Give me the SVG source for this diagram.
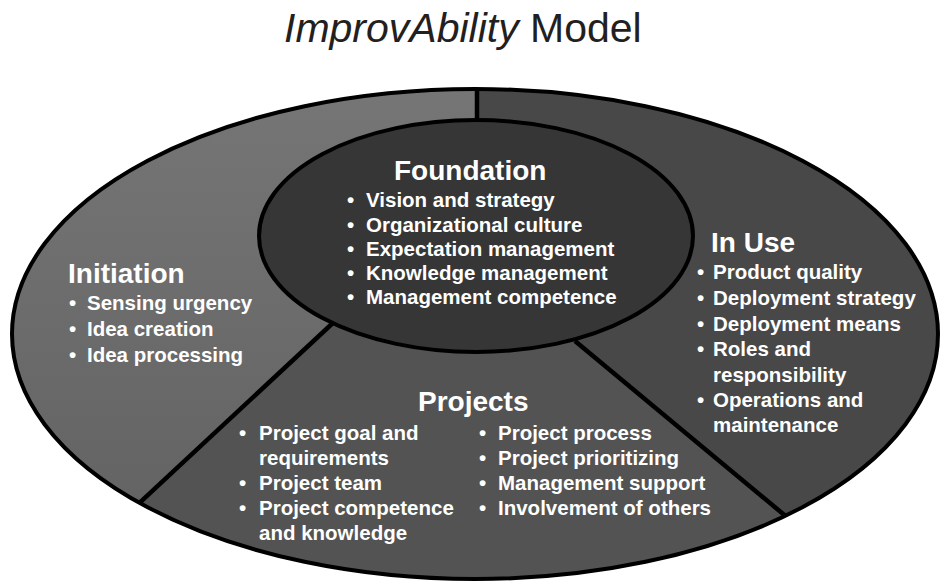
<svg xmlns="http://www.w3.org/2000/svg" width="941" height="582" viewBox="0 0 941 582">
<style>
.t{font-family:"Liberation Sans",Arial,sans-serif;font-weight:bold;fill:#ffffff}
.h{font-size:28px}
.i{font-size:20.5px}
.div{stroke:#000;stroke-width:4.5;fill:none;stroke-linecap:butt}
</style>
<defs>
<clipPath id="outer"><ellipse cx="475" cy="334" rx="463" ry="245"/></clipPath>
<linearGradient id="gInit" x1="0" y1="0" x2="0" y2="1">
<stop offset="0" stop-color="#767676"/><stop offset="1" stop-color="#626262"/>
</linearGradient>
</defs>
<rect width="941" height="582" fill="#ffffff"/>
<g id="title">
<text x="284" y="42" font-family="Liberation Sans, Arial, sans-serif" font-size="41" fill="#231f20"><tspan font-style="italic">ImprovAbility</tspan> Model</text>
</g>
<g id="sectors" clip-path="url(#outer)">
<rect x="0" y="80" width="941" height="520" fill="#484848"/>
<polygon id="initiation-area" points="477,80 477,240 330,326 143,500 100,540 0,540 0,80" fill="url(#gInit)"/>
<polygon id="projects-area" points="477,240 330,326 143,500 80,560 80,600 900,600 835,557 787,517 580,345" fill="#535353"/>
</g>
<g id="connectors" clip-path="url(#outer)">
<line class="div" x1="477" y1="80" x2="477" y2="125"/>
<line class="div" x1="335" y1="321" x2="120" y2="521"/>
<line class="div" x1="575" y1="341" x2="800" y2="528"/>
</g>
<ellipse cx="475" cy="334" rx="463" ry="245" fill="none" stroke="#000" stroke-width="4"/>
<g id="foundation">
<ellipse cx="476" cy="236" rx="217" ry="116" fill="#363636" stroke="#000" stroke-width="4"/>
<text class="t h" x="394" y="180">Foundation</text>
<text class="t i" x="347" y="207">•</text><text class="t i" x="366" y="207">Vision and strategy</text>
<text class="t i" x="347" y="232">•</text><text class="t i" x="366" y="232">Organizational culture</text>
<text class="t i" x="347" y="256">•</text><text class="t i" x="366" y="256">Expectation management</text>
<text class="t i" x="347" y="280">•</text><text class="t i" x="366" y="280">Knowledge management</text>
<text class="t i" x="347" y="304">•</text><text class="t i" x="366" y="304">Management competence</text>
</g>
<g id="initiation">
<text class="t h" x="68" y="283">Initiation</text>
<text class="t i" x="69" y="310">•</text><text class="t i" x="87" y="310">Sensing urgency</text>
<text class="t i" x="69" y="336">•</text><text class="t i" x="87" y="336">Idea creation</text>
<text class="t i" x="69" y="362">•</text><text class="t i" x="87" y="362">Idea processing</text>
</g>
<g id="inuse">
<text class="t h" x="711" y="252">In Use</text>
<text class="t i" x="697" y="279">•</text><text class="t i" x="713" y="279">Product quality</text>
<text class="t i" x="697" y="305">•</text><text class="t i" x="713" y="305">Deployment strategy</text>
<text class="t i" x="697" y="331">•</text><text class="t i" x="713" y="331">Deployment means</text>
<text class="t i" x="697" y="356">•</text><text class="t i" x="713" y="356">Roles and</text>
<text class="t i" x="713" y="382">responsibility</text>
<text class="t i" x="697" y="407">•</text><text class="t i" x="713" y="407">Operations and</text>
<text class="t i" x="713" y="432">maintenance</text>
</g>
<g id="projects">
<text class="t h" x="418" y="411">Projects</text>
<text class="t i" x="239" y="440">•</text><text class="t i" x="259" y="440">Project goal and</text>
<text class="t i" x="259" y="465">requirements</text>
<text class="t i" x="239" y="490">•</text><text class="t i" x="259" y="490">Project team</text>
<text class="t i" x="239" y="515">•</text><text class="t i" x="259" y="515">Project competence</text>
<text class="t i" x="259" y="540">and knowledge</text>
<text class="t i" x="479" y="440">•</text><text class="t i" x="498" y="440">Project process</text>
<text class="t i" x="479" y="465">•</text><text class="t i" x="498" y="465">Project prioritizing</text>
<text class="t i" x="479" y="490">•</text><text class="t i" x="498" y="490">Management support</text>
<text class="t i" x="479" y="515">•</text><text class="t i" x="498" y="515">Involvement of others</text>
</g>
</svg>
